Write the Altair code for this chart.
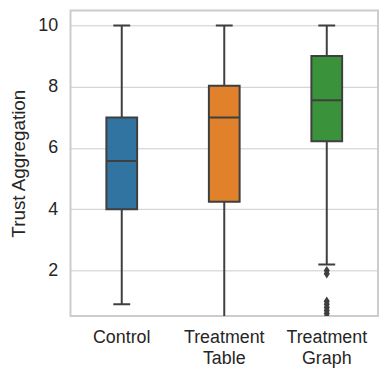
import altair as alt
import pandas as pd

categories = ["Control", "Treatment Table", "Treatment Graph"]
whisker_low = [0.9, 0.0, 2.2]
q1 = [4.0, 4.25, 6.22]
median = [5.58, 7.0, 7.56]
q3 = [7.0, 8.03, 9.0]
whisker_high = [10.0, 10.0, 10.0]
colors = ["#3274a1", "#e1812c", "#3a923a"]

outlier_group = ["Treatment Graph"] * 8
outlier_values = [2.0, 1.9, 1.0, 0.9, 0.8, 0.7, 0.6, 0.5]

stats = pd.DataFrame({
    "group": categories,
    "lo": whisker_low,
    "q1": q1,
    "med": median,
    "q3": q3,
    "hi": whisker_high,
})
outl = pd.DataFrame({"group": outlier_group, "value": outlier_values})

EDGE = "#3f3f3f"
ydom = [0.52, 10.49]

x = alt.X("group:N", sort=categories, title=None,
          scale=alt.Scale(domain=categories, paddingInner=0, paddingOuter=0),
          axis=alt.Axis(labelExpr="split(datum.label, ' ')", labelAngle=0,
                        labelPadding=13, labelLineHeight=21, grid=False,
                        ticks=False, domain=False))
yscale = alt.Scale(domain=ydom, nice=False, zero=False)
yaxis = alt.Axis(values=[2, 4, 6, 8, 10], title="Trust Aggregation",
                 ticks=False, domain=False, labelPadding=13, titlePadding=9)

base = alt.Chart(stats)

whisk = base.mark_rule(color=EDGE, strokeWidth=2, clip=True).encode(
    x=x,
    y=alt.Y("lo:Q", scale=yscale, axis=yaxis),
    y2="hi:Q",
)
box = base.mark_bar(size=31, stroke=EDGE, strokeWidth=2, clip=True, opacity=1).encode(
    x=x,
    y=alt.Y("q1:Q", scale=yscale),
    y2="q3:Q",
    color=alt.Color("group:N", scale=alt.Scale(domain=categories, range=colors), legend=None),
)
med = base.mark_tick(size=31, thickness=2, color=EDGE, opacity=1, clip=True).encode(
    x=x, y=alt.Y("med:Q", scale=yscale)
)
cap_lo = base.mark_tick(size=17, thickness=2, color=EDGE, opacity=1, clip=True).encode(
    x=x, y=alt.Y("lo:Q", scale=yscale)
)
cap_hi = base.mark_tick(size=17, thickness=2, color=EDGE, opacity=1, clip=True).encode(
    x=x, y=alt.Y("hi:Q", scale=yscale)
)
pts = alt.Chart(outl).mark_point(
    shape="M0,-1L0.65,0L0,1L-0.65,0Z", filled=True, color=EDGE, opacity=1, size=90, clip=True
).encode(x=x, y=alt.Y("value:Q", scale=yscale))

chart = alt.layer(whisk, box, med, cap_lo, cap_hi, pts).properties(
    width=310, height=308,
    background="white",
    padding={"left": 1, "top": 1, "right": 2, "bottom": 2},
).configure_view(
    stroke="#cccccc", strokeWidth=2
).configure_axis(
    labelFont="Liberation Sans", titleFont="Liberation Sans",
    labelFontSize=18, titleFontSize=19, labelColor="#262626", titleColor="#262626",
    titleFontWeight="normal", gridColor="#cccccc", gridWidth=1,
)

chart.save("out.html", embed_options={"renderer": "svg", "actions": False})
